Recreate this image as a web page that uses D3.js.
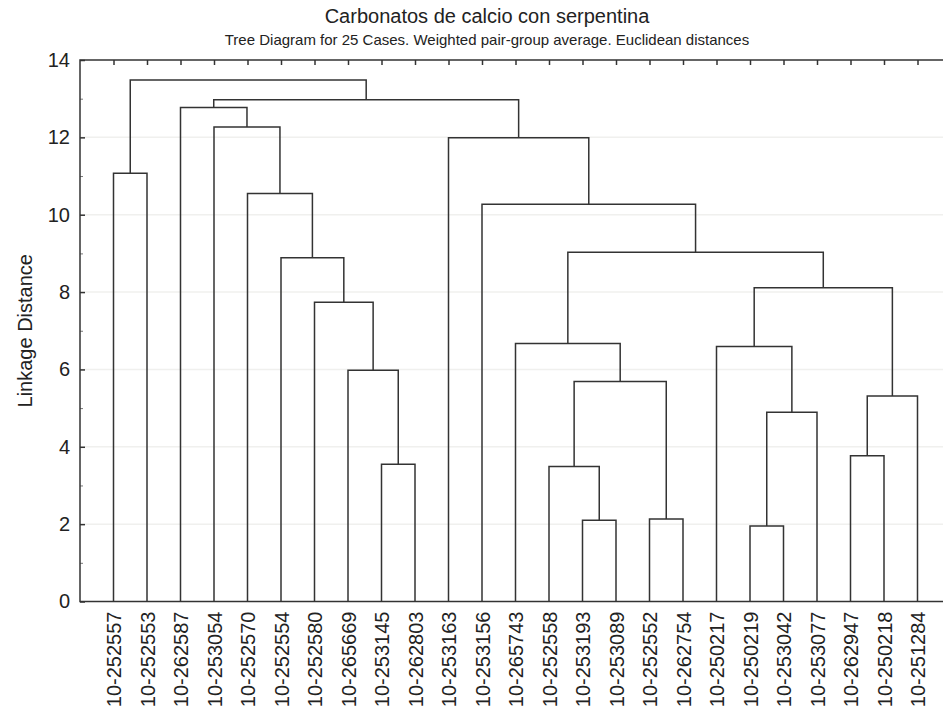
<!DOCTYPE html>
<html>
<head>
<meta charset="utf-8">
<script src="https://cdn.jsdelivr.net/npm/d3@7"></script>
<style>
  body { margin: 0; background: #fff; }
  svg text { font-family: "Liberation Sans", Arial, sans-serif; fill: #222; }
  .frame { fill: none; stroke: #333; stroke-width: 1.5px; }
  .links path { fill: none; stroke: #333; stroke-width: 1.5px; }
  .grid line { stroke: #f0f0ee; stroke-width: 1.5px; }
</style>
</head>
<body>
<script>
// leaf order along the x axis
const cases = [
  "10-252557", "10-252553", "10-262587", "10-253054", "10-252570",
  "10-252554", "10-252580", "10-265669", "10-253145", "10-262803",
  "10-253163", "10-253156", "10-265743", "10-252558", "10-253193",
  "10-253089", "10-252552", "10-262754", "10-250217", "10-250219",
  "10-253042", "10-253077", "10-262947", "10-250218", "10-251284"
]

// [left, right, distance]; ids < 25 are cases, id 25 + k is merge k
const merges = [
  [19, 20, 1.95],
  [14, 15, 2.10],
  [16, 17, 2.13],
  [13, 26, 3.49],
  [8, 9, 3.55],
  [22, 23, 3.77],
  [25, 21, 4.89],
  [30, 24, 5.31],
  [28, 27, 5.69],
  [7, 29, 5.98],
  [18, 31, 6.59],
  [12, 33, 6.67],
  [6, 34, 7.74],
  [35, 32, 8.11],
  [5, 37, 8.89],
  [36, 38, 9.03],
  [11, 40, 10.27],
  [4, 39, 10.55],
  [0, 1, 11.07],
  [10, 41, 11.99],
  [3, 42, 12.27],
  [2, 45, 12.77],
  [46, 44, 12.97],
  [43, 47, 13.48]
]

const yTicks = [0, 2, 4, 6, 8, 10, 12, 14]
const yMinorTicks = [1, 3, 5, 7, 9, 11, 13]

const title = "Carbonatos de calcio con serpentina"
const subtitle = "Tree Diagram for 25 Cases. Weighted pair-group average. Euclidean distances"
const yLabel = "Linkage Distance"

var width = 943
var height = 715
var margin = { left: 80, top: 60, right: -8, bottom: 113.5 }
var plotW = width - margin.left - margin.right
var plotH = height - margin.top - margin.bottom

var svg = d3.select("body").append("svg")
  .attr("width", width)
  .attr("height", height)

var x = d3.scalePoint()
  .domain(cases)
  .range([margin.left, margin.left + plotW])
  .padding(1)

var y = d3.scaleLinear()
  .domain([0, 14])
  .range([margin.top + plotH, margin.top])

// faint grid
svg.append("g")
    .attr("class", "grid")
  .selectAll("line")
  .data(yTicks.filter(function(d) { return d > 0 && d < 14 }))
  .enter().append("line")
    .attr("x1", margin.left)
    .attr("x2", margin.left + plotW)
    .attr("y1", function(d) { return y(d) })
    .attr("y2", function(d) { return y(d) })

// node positions
var nodes = cases.map(function(c) { return { x: x(c), h: 0 } })
merges.forEach(function(m) {
  var a = nodes[m[0]], b = nodes[m[1]]
  nodes.push({ x: (a.x + b.x) / 2, h: m[2], left: a, right: b })
})

svg.append("g")
    .attr("class", "links")
  .selectAll("path")
  .data(nodes.filter(function(d) { return d.left }))
  .enter().append("path")
    .attr("d", function(d) {
      return "M" + d.left.x + "," + y(d.left.h) +
        "V" + y(d.h) + "H" + d.right.x + "V" + y(d.right.h)
    })

// left axis
var yAxis = svg.append("g")
  .attr("transform", "translate(" + margin.left + ",0)")
  .call(d3.axisLeft(y).tickValues(yTicks).tickSize(-5).tickPadding(10).tickFormat(d3.format("d")))
yAxis.select(".domain").remove()
yAxis.selectAll(".tick line").attr("stroke", "#333").attr("stroke-width", 1.5)
yAxis.selectAll(".tick text")
  .attr("x", -10)
  .style("font-size", "20px")
  .style("font-family", "Liberation Sans, Arial, sans-serif")
  .attr("fill", "#222")

var yMinor = svg.append("g")
  .attr("transform", "translate(" + margin.left + ",0)")
  .call(d3.axisLeft(y).tickValues(yMinorTicks).tickSize(-3).tickFormat(""))
yMinor.select(".domain").remove()
yMinor.selectAll(".tick line").attr("stroke", "#777")

// top ticks at the cases
var topAxis = svg.append("g")
  .attr("transform", "translate(0," + margin.top + ")")
  .call(d3.axisTop(x).tickSize(-5).tickFormat(""))
topAxis.select(".domain").remove()
topAxis.selectAll(".tick line").attr("stroke", "#333").attr("stroke-width", 1.5)

// case labels
var bottomAxis = svg.append("g")
  .attr("transform", "translate(0," + (margin.top + plotH) + ")")
  .call(d3.axisBottom(x).tickSize(0))
bottomAxis.select(".domain").remove()
bottomAxis.selectAll(".tick text")
  .attr("transform", "rotate(-90)")
  .attr("text-anchor", "end")
  .attr("x", -10)
  .attr("y", 0)
  .attr("dy", "0.36em")
  .style("font-size", "20px")
  .style("font-family", "Liberation Sans, Arial, sans-serif")
  .attr("fill", "#222")

// frame
svg.append("rect")
  .attr("class", "frame")
  .attr("x", margin.left)
  .attr("y", margin.top)
  .attr("width", plotW)
  .attr("height", plotH)

svg.append("text")
  .attr("x", 487)
  .attr("y", 23)
  .attr("text-anchor", "middle")
  .style("font-size", "20px")
  .text(title)

svg.append("text")
  .attr("x", 487)
  .attr("y", 45)
  .attr("text-anchor", "middle")
  .style("font-size", "15px")
  .text(subtitle)

svg.append("text")
  .attr("transform", "translate(32," + (margin.top + plotH / 2) + ") rotate(-90)")
  .attr("text-anchor", "middle")
  .style("font-size", "20px")
  .text(yLabel)
</script>
</body>
</html>
